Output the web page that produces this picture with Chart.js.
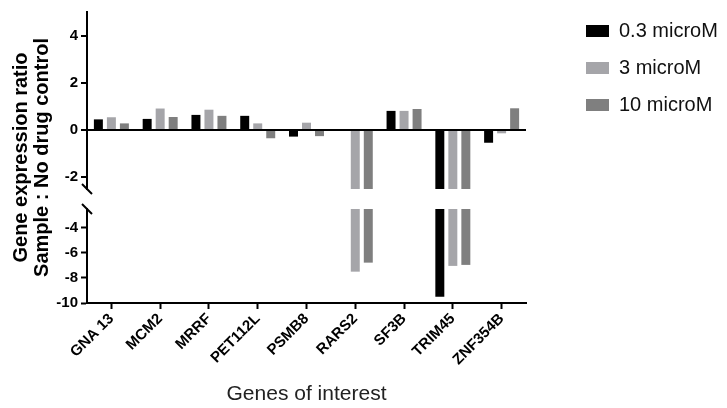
<!DOCTYPE html>
<html>
<head>
<meta charset="utf-8">
<script src="https://cdn.jsdelivr.net/npm/chart.js@4"></script>
<style>
  html, body { margin: 0; padding: 0; background: #fff; }
  #wrap { width: 727px; height: 408px; }
</style>
</head>
<body>
<div id="wrap"><canvas id="myChart"></canvas></div>
<script>
const genes = ['GNA 13', 'MCM2', 'MRRF', 'PET112L', 'PSMB8', 'RARS2', 'SF3B', 'TRIM45', 'ZNF354B'];
const doseLabels = ['0.3 microM', '3 microM', '10 microM'];
const dose03 = [0.45, 0.47, 0.64, 0.6, -0.28, 0, 0.81, -9.5, -0.54];
const dose3 = [0.54, 0.91, 0.86, 0.28, 0.31, -7.5, 0.81, -7.04, -0.14];
const dose10 = [0.28, 0.55, 0.6, -0.35, -0.26, -6.78, 0.89, -6.96, 0.92];
const doseColors = ['#000000', '#a5a5a9', '#7f7f7f'];
const breakAt = -2.5; // y axis is cut here
const topTicks = [-2, -1, 0, 1, 2, 3, 4];
const bottomTicks = [-10, -8, -6, -4];

Chart.defaults.font.family = '"Liberation Sans", Arial, sans-serif';
Chart.defaults.color = '#000';

var series = [dose03, dose3, dose10];
var datasets = [];
// upper part of the bars (cut at the break)
for (var i = 0; i < series.length; i++) {
  datasets.push({
    label: doseLabels[i],
    data: series[i].map(v => Math.max(v, breakAt)),
    backgroundColor: doseColors[i],
    yAxisID: 'yTop',
    stack: 's' + i
  });
}
// lower part, only for values below the break
for (var i = 0; i < series.length; i++) {
  datasets.push({
    label: doseLabels[i],
    data: series[i].map(v => v < breakAt ? [breakAt, v] : null),
    backgroundColor: doseColors[i],
    yAxisID: 'yBottom',
    stack: 's' + i
  });
}

const axisBreak = {
  id: 'axisBreak',
  afterDraw(chart) {
    const ctx = chart.ctx;
    const x = chart.chartArea.left;
    const ys = [chart.scales.yTop.bottom, chart.scales.yBottom.top];
    ctx.save();
    ctx.strokeStyle = '#000';
    ctx.lineWidth = 2;
    ys.forEach(y => {
      ctx.beginPath();
      ctx.moveTo(x - 5, y - 5);
      ctx.lineTo(x + 5, y + 5);
      ctx.stroke();
    });
    ctx.restore();
  }
};

// legend on the right gets squeezed by the many left axes, give it a fixed width
const legendWidth = {
  id: 'legendWidth',
  beforeLayout(chart) {
    const lg = chart.legend;
    if (!lg || lg._wide) return;
    const fit = lg.fit;
    lg.fit = function () {
      fit.call(this);
      this.width = 158;
    };
    lg._wide = true;
  }
};

const tickFont = { size: 15, weight: 'bold' };
const hidden = {
  ticks: { display: false },
  grid: { display: false },
  border: { display: false }
};

new Chart(document.getElementById('myChart'), {
  type: 'bar',
  data: { labels: genes, datasets: datasets },
  plugins: [axisBreak, legendWidth],
  options: {
    responsive: true,
    maintainAspectRatio: false,
    animation: false,
    barPercentage: 0.69,
    categoryPercentage: 0.8,
    layout: { padding: { top: 4, left: 0, right: 0, bottom: 0 } },
    plugins: {
      tooltip: { enabled: false },
      legend: {
        position: 'right',
        align: 'start',
        labels: {
          boxWidth: 23,
          boxHeight: 12,
          padding: 17,
          font: { size: 20 },
          color: '#111',
          filter: item => item.datasetIndex < 3
        }
      }
    },
    scales: {
      x: {
        type: 'category',
        grid: { display: true, drawOnChartArea: false, offset: false, tickLength: 6, tickColor: '#000', tickWidth: 2 },
        border: { color: '#000', width: 2 },
        ticks: { font: { size: 15, weight: 'bold' }, maxRotation: 45, minRotation: 45, padding: 1 },
        title: { display: true, text: 'Genes of interest', font: { size: 21 }, color: '#222', padding: { top: 0, bottom: 1 } },
        afterFit: s => { s.height = 105; }
      },
      xSpace: Object.assign({ position: 'top', type: 'linear', min: 0, max: 1, afterFit: s => { s.height = 8; } }, hidden),
      yTitle: {
        position: 'left',
        weight: 10,
        min: 0, max: 1,
        ticks: { display: false },
        grid: { display: false },
        border: { display: false },
        title: {
          display: true,
          text: ['Gene expression ratio', 'Sample : No drug control'],
          font: { size: 20, weight: 'bold', lineHeight: 1.05 },
          padding: { top: 11, bottom: 0 }
        },
        afterFit: s => { s.width = 55; }
      },
      yTop: {
        position: 'left',
        weight: 3,
        stack: 'y',
        stackWeight: 177,
        stacked: false,
        min: breakAt, max: 5,
        afterBuildTicks: s => { s.ticks = topTicks.map(v => ({ value: v })); },
        afterFit: s => { s.width = 32; },
        ticks: { font: tickFont, padding: 3, callback: v => v % 2 === 0 ? v : '' },
        grid: {
          color: c => c.tick && c.tick.value === 0 ? '#000' : 'rgba(0,0,0,0)',
          lineWidth: 2, tickColor: '#000', tickLength: 6, tickWidth: 2
        },
        border: { color: '#000', width: 2 }
      },
      yGap: Object.assign({ position: 'left', weight: 2, stack: 'y', stackWeight: 20, min: 0, max: 1 }, hidden),
      yBottom: {
        position: 'left',
        weight: 1,
        stack: 'y',
        stackWeight: 94,
        stacked: false,
        min: -10, max: breakAt,
        afterBuildTicks: s => { s.ticks = bottomTicks.map(v => ({ value: v })); },
        afterFit: s => { s.width = 32; },
        ticks: { font: tickFont, padding: 3 },
        grid: { drawOnChartArea: false, tickColor: '#000', tickLength: 6, tickWidth: 2 },
        border: { color: '#000', width: 2 }
      },
      ySpace: Object.assign({ position: 'right', min: 0, max: 1, afterFit: s => { s.width = 43; } }, hidden)
    }
  }
});
</script>
</body>
</html>
